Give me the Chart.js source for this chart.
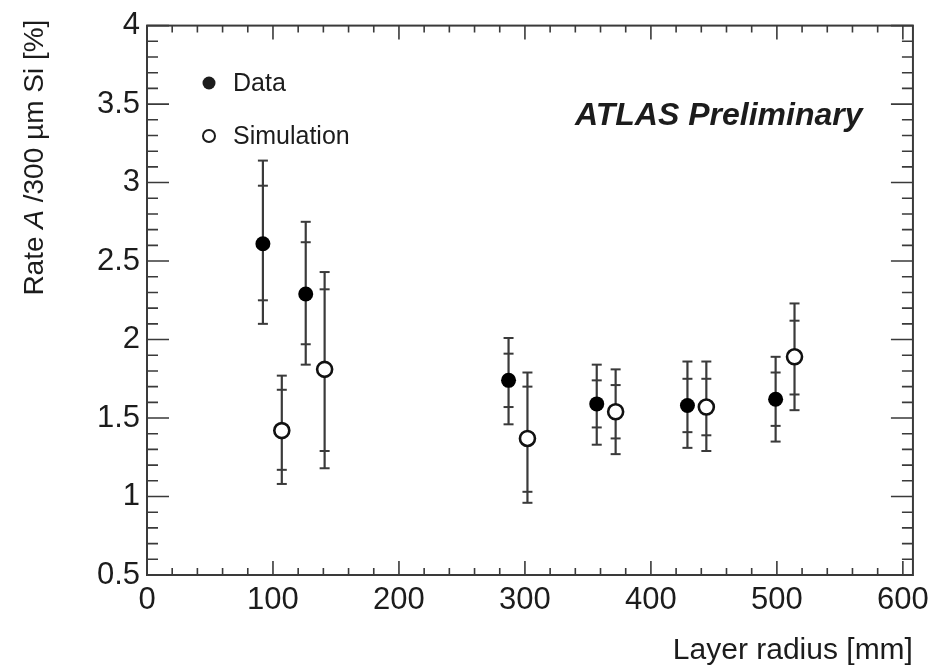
<!DOCTYPE html>
<html>
<head>
<meta charset="utf-8">
<script src="https://cdn.jsdelivr.net/npm/chart.js@4.4.0/dist/chart.umd.min.js"></script>
<style>
  html, body { margin: 0; padding: 0; background: #fff; }
  #wrap { width: 936px; height: 671px; position: relative; }
</style>
</head>
<body>
<div id="wrap"><canvas id="rateChart"></canvas></div>
<script>
// Data (filled markers) - layer radius [mm] and rate [%]
const dataRadius = [92, 126, 287, 357, 429, 499];
const dataRate = [2.61, 2.29, 1.74, 1.59, 1.58, 1.62];
const dataTotHi = [3.14, 2.75, 2.01, 1.84, 1.86, 1.89];
const dataStatHi = [2.98, 2.62, 1.91, 1.74, 1.75, 1.79];
const dataStatLo = [2.25, 1.97, 1.57, 1.44, 1.41, 1.45];
const dataTotLo = [2.10, 1.84, 1.46, 1.33, 1.31, 1.35];

// Simulation (open markers)
const simRadius = [107, 141, 302, 372, 444, 514];
const simRate = [1.42, 1.81, 1.37, 1.54, 1.57, 1.89];
const simTotHi = [1.77, 2.43, 1.79, 1.81, 1.86, 2.23];
const simStatHi = [1.68, 2.32, 1.70, 1.71, 1.75, 2.12];
const simStatLo = [1.17, 1.29, 1.03, 1.37, 1.39, 1.65];
const simTotLo = [1.08, 1.18, 0.96, 1.27, 1.29, 1.55];

const xTickLabels = [0, 100, 200, 300, 400, 500, 600];
const yTickLabels = [0.5, 1, 1.5, 2, 2.5, 3, 3.5, 4];

const FONT = '"Liberation Sans", Arial, Helvetica, sans-serif';
const INK = '#1c1c1c';
const LINE = '#3a3a3a';

const toPoints = (xs, ys) => xs.map((x, i) => ({ x: x, y: ys[i] }));

const errorSets = [
    { hi: dataTotHi, shi: dataStatHi, slo: dataStatLo, lo: dataTotLo },
    { hi: simTotHi, shi: simStatHi, slo: simStatLo, lo: simTotLo }
];

// error bars with caps at total and statistical ends
const errorBarPlugin = {
    id: 'errorBars',
    beforeDatasetsDraw(chart) {
        const ctx = chart.ctx;
        const xs = chart.scales.x, ys = chart.scales.y;
        ctx.save();
        ctx.strokeStyle = LINE;
        chart.data.datasets.forEach((ds, d) => {
            const e = errorSets[d];
            ds.data.forEach((p, i) => {
                const px = xs.getPixelForValue(p.x);
                const top = ys.getPixelForValue(e.hi[i]);
                const bot = ys.getPixelForValue(e.lo[i]);
                ctx.lineWidth = 2.2;
                ctx.beginPath();
                ctx.moveTo(px, top);
                ctx.lineTo(px, bot);
                ctx.stroke();
                ctx.lineWidth = 2;
                [e.hi[i], e.shi[i], e.slo[i], e.lo[i]].forEach(v => {
                    const py = ys.getPixelForValue(v);
                    ctx.beginPath();
                    ctx.moveTo(px - 5, py);
                    ctx.lineTo(px + 5, py);
                    ctx.stroke();
                });
            });
        });
        ctx.restore();
    }
};

// frame, inward ticks, legend, titles
const framePlugin = {
    id: 'frame',
    afterDatasetsDraw(chart) {
        const ctx = chart.ctx;
        const a = chart.chartArea;
        const xs = chart.scales.x, ys = chart.scales.y;
        ctx.save();
        ctx.strokeStyle = LINE;
        ctx.lineWidth = 2;
        ctx.strokeRect(a.left, a.top, a.right - a.left, a.bottom - a.top);

        ctx.lineWidth = 1.6;
        ctx.beginPath();
        for (let v = 0; v <= 600; v += 20) {
            const px = xs.getPixelForValue(v);
            const len = v % 100 === 0 ? 14 : 7;
            ctx.moveTo(px, a.bottom); ctx.lineTo(px, a.bottom - len);
            ctx.moveTo(px, a.top); ctx.lineTo(px, a.top + len);
        }
        for (let k = 5; k <= 40; k++) {
            const v = k / 10;
            const py = ys.getPixelForValue(v);
            const len = k % 5 === 0 ? 22 : 11;
            ctx.moveTo(a.left, py); ctx.lineTo(a.left + len, py);
            ctx.moveTo(a.right, py); ctx.lineTo(a.right - len, py);
        }
        ctx.stroke();

        // legend
        const ds = chart.data.datasets;
        ctx.fillStyle = INK;
        ctx.font = '25px ' + FONT;
        ctx.textBaseline = 'middle';
        ctx.beginPath();
        ctx.arc(209, 83, 6.5, 0, Math.PI * 2);
        ctx.fill();
        ctx.fillText(ds[0].label, 233, 84);
        ctx.beginPath();
        ctx.arc(209, 136, 6, 0, Math.PI * 2);
        ctx.fillStyle = '#fff';
        ctx.fill();
        ctx.lineWidth = 2;
        ctx.strokeStyle = INK;
        ctx.stroke();
        ctx.fillStyle = INK;
        ctx.fillText(ds[1].label, 233, 137);

        // ATLAS label
        ctx.font = 'italic bold 32px ' + FONT;
        ctx.fillText('ATLAS Preliminary', 575, 116);

        // y title with italic A
        const parts = [
            { t: 'Rate ', f: '28px ' + FONT },
            { t: 'A', f: 'italic 28px ' + FONT },
            { t: ' /300 \u00b5m Si [%]', f: '28px ' + FONT }
        ];
        let total = 0;
        parts.forEach(p => { ctx.font = p.f; p.w = ctx.measureText(p.t).width; total += p.w; });
        ctx.translate(35, a.top + total - 6);
        ctx.rotate(-Math.PI / 2);
        let cx = 0;
        parts.forEach(p => { ctx.font = p.f; ctx.fillText(p.t, cx, 0); cx += p.w; });
        ctx.restore();
    }
};

const chart = new Chart(document.getElementById('rateChart').getContext('2d'), {
    type: 'scatter',
    data: {
        datasets: [{
            label: 'Data',
            data: toPoints(dataRadius, dataRate),
            pointRadius: 7.5,
            pointBackgroundColor: '#000',
            pointBorderColor: '#000',
            pointBorderWidth: 0
        }, {
            label: 'Simulation',
            data: toPoints(simRadius, simRate),
            pointRadius: 7.5,
            pointBackgroundColor: '#fff',
            pointBorderColor: '#111',
            pointBorderWidth: 2.6
        }]
    },
    options: {
        responsive: true,
        maintainAspectRatio: false,
        animation: false,
        layout: { padding: { top: 23, right: 21, left: 0, bottom: 0 } },
        plugins: {
            legend: { display: false },
            tooltip: { enabled: false }
        },
        scales: {
            x: {
                type: 'linear',
                min: 0,
                max: 608,
                grid: { display: false, drawTicks: false },
                border: { display: false },
                afterBuildTicks: s => { s.ticks = xTickLabels.map(v => ({ value: v })); },
                afterFit: s => { s.height = 96; },
                ticks: {
                    padding: 7,
                    maxRotation: 0,
                    color: INK,
                    font: { family: FONT, size: 31 },
                    callback: v => String(v)
                },
                title: {
                    display: true,
                    text: 'Layer radius [mm]',
                    align: 'end',
                    color: INK,
                    font: { family: FONT, size: 30 },
                    padding: { top: 0, bottom: 2 }
                }
            },
            y: {
                type: 'linear',
                min: 0.5,
                max: 4,
                grid: { display: false, drawTicks: false },
                border: { display: false },
                afterBuildTicks: s => { s.ticks = yTickLabels.map(v => ({ value: v })); },
                afterFit: s => { s.width = 147; },
                ticks: {
                    padding: 7,
                    color: INK,
                    font: { family: FONT, size: 31 },
                    callback: v => String(v)
                }
            }
        }
    },
    plugins: [errorBarPlugin, framePlugin]
});
</script>
</body>
</html>
